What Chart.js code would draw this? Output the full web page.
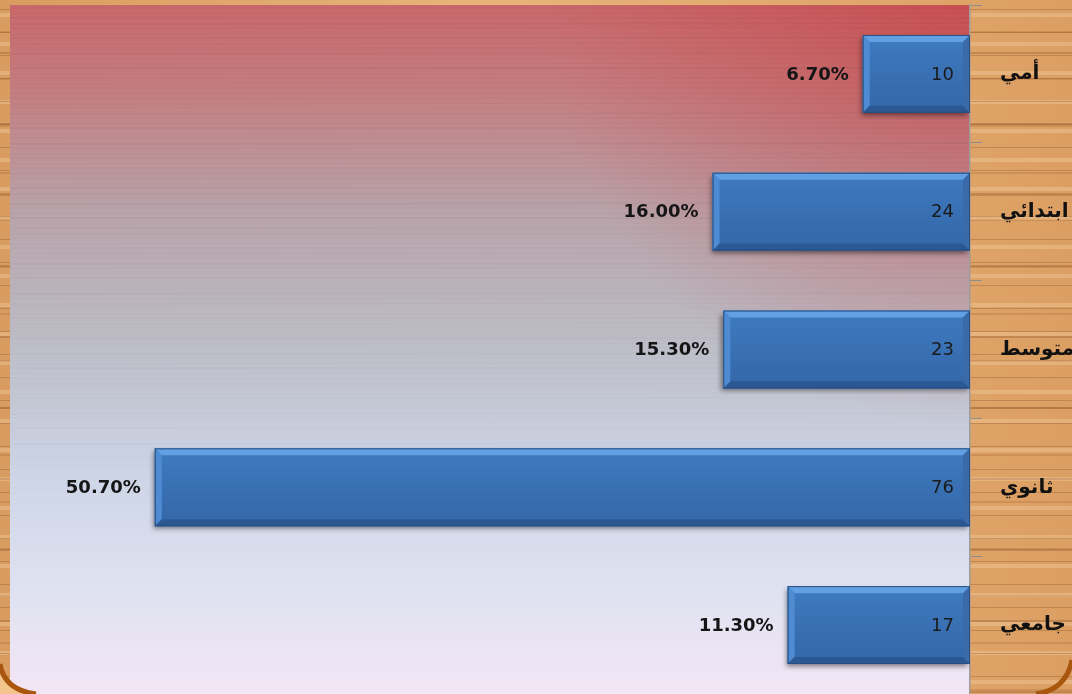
<!DOCTYPE html>
<html>
<head>
<meta charset="utf-8">
<script src="https://cdn.jsdelivr.net/npm/chart.js@4/dist/chart.umd.min.js"></script>
<style>
  html, body { margin: 0; padding: 0; }
  body {
    width: 1072px; height: 694px; overflow: hidden;
    background-color: #dea86c;
    background-image:
      repeating-linear-gradient(180deg, rgba(120,62,22,0) 0 9px, rgba(120,62,22,.28) 9px 10px, rgba(120,62,22,0) 10px 23px),
      repeating-linear-gradient(180deg, rgba(255,232,195,0) 0 13px, rgba(255,232,195,.25) 13px 17px, rgba(255,232,195,0) 17px 29px),
      repeating-linear-gradient(180deg, rgba(140,75,30,0) 0 31px, rgba(140,75,30,.20) 31px 33px, rgba(140,75,30,0) 33px 47px),
      repeating-linear-gradient(180deg, rgba(110,55,20,0) 0 52px, rgba(110,55,20,.25) 52px 54px, rgba(110,55,20,0) 54px 71px),
      linear-gradient(90deg, #d99c60, #e7b47a 45%, #dc9f63);
  }
  #wrap { position: relative; width: 1072px; height: 694px; }
</style>
</head>
<body>
<div id="wrap"><canvas id="chart" width="1072" height="694"></canvas></div>
<script>
// ─── Data ─────────────────────────────────────────────────────────
const CATS   = ['أمي', 'ابتدائي', 'متوسط', 'ثانوي', 'جامعي'];
const COUNTS = [10, 24, 23, 76, 17];
const PCTS   = [6.7, 16.0, 15.3, 50.7, 11.3];
const X_MAX  = 89.5;

// ─── Plot background (gradient + faint grain) + bevelled bars ─────
const bgPlugin = {
  id: 'bg',
  beforeDraw(chart) {
    const { ctx, chartArea: a } = chart;
    ctx.save();
    const g = ctx.createLinearGradient(0, a.top, 0, a.bottom);
    g.addColorStop(0,    '#c9686b');
    g.addColorStop(0.12, '#c57d80');
    g.addColorStop(0.3,  '#b9a3aa');
    g.addColorStop(0.48, '#bcbcc5');
    g.addColorStop(0.68, '#cdd5e6');
    g.addColorStop(0.85, '#dfe2f1');
    g.addColorStop(1,    '#f3e6f5');
    ctx.fillStyle = g;
    ctx.fillRect(a.left, a.top, a.right - a.left, a.bottom - a.top);

    const r = ctx.createRadialGradient(a.right, a.top, 0, a.right, a.top, 420);
    r.addColorStop(0, 'rgba(200,60,62,.55)');
    r.addColorStop(1, 'rgba(200,60,62,0)');
    ctx.fillStyle = r;
    ctx.fillRect(a.left, a.top, a.right - a.left, a.bottom - a.top);

    // grain lines, fading out toward the bottom
    const h = a.bottom - a.top;
    for (let y = a.top + 3, i = 0; y < a.top + h * 0.78; y += 5, i++) {
      const fade = 1 - (y - a.top) / (h * 0.78);
      const alpha = (0.04 + 0.05 * ((i * 7) % 5) / 4) * fade;
      ctx.strokeStyle = `rgba(80,60,75,${alpha.toFixed(3)})`;
      ctx.lineWidth = 1 + (i % 3 === 0 ? 1 : 0);
      ctx.beginPath();
      ctx.moveTo(a.left, y + (i % 2));
      ctx.lineTo(a.right, y);
      ctx.stroke();
    }

    // rounded frame corners at the bottom
    ctx.lineWidth = 5;
    ctx.strokeStyle = '#a9560f';
    ctx.fillStyle = '#f3c58c';
    ctx.beginPath();
    ctx.moveTo(0, 664); ctx.quadraticCurveTo(4, 690, 36, 694); ctx.lineTo(0, 694); ctx.closePath();
    ctx.fill();
    ctx.beginPath();
    ctx.moveTo(0, 664); ctx.quadraticCurveTo(4, 690, 36, 694);
    ctx.stroke();
    ctx.beginPath();
    ctx.moveTo(1036, 694); ctx.quadraticCurveTo(1066, 690, 1072, 660);
    ctx.stroke();
    ctx.restore();
  },
  beforeDatasetsDraw(chart) {
    const ctx = chart.ctx;
    ctx.save();
    ctx.shadowColor = 'rgba(0,0,0,.45)';
    ctx.shadowBlur = 5;
    ctx.shadowOffsetX = -2;
    ctx.shadowOffsetY = 3;
  },
  afterDatasetsDraw(chart) {
    const ctx = chart.ctx;
    ctx.restore();
    const meta = chart.getDatasetMeta(0);
    meta.data.forEach((bar, i) => {
      const p = bar.getProps(['x', 'y', 'base', 'height'], true);
      const L = Math.min(p.x, p.base), R = Math.max(p.x, p.base);
      const T = p.y - p.height / 2, B = p.y + p.height / 2, b = 7;
      ctx.save();
      const face = ctx.createLinearGradient(0, T, 0, B);
      face.addColorStop(0, '#3f7ac0');
      face.addColorStop(1, '#3367a8');
      ctx.fillStyle = face;
      ctx.fillRect(L, T, R - L, B - T);
      const poly = (pts, c) => {
        ctx.fillStyle = c; ctx.beginPath();
        pts.forEach(([x, y], k) => k ? ctx.lineTo(x, y) : ctx.moveTo(x, y));
        ctx.closePath(); ctx.fill();
      };
      poly([[L, T], [R, T], [R - b, T + b], [L + b, T + b]], '#62a0e4');
      poly([[L, T], [L + b, T + b], [L + b, B - b], [L, B]], '#4e8bd2');
      poly([[L, B], [L + b, B - b], [R - b, B - b], [R, B]], '#2b5892');
      poly([[R, T], [R, B], [R - b, B - b], [R - b, T + b]], '#3a6aa8');
      ctx.strokeStyle = '#2a4e7e';
      ctx.lineWidth = 1;
      ctx.strokeRect(L + 0.5, T + 0.5, R - L - 1, B - T - 1);

      ctx.textBaseline = 'middle';
      ctx.fillStyle = '#1a1a1a';
      ctx.font = '18px "DejaVu Sans", Verdana, sans-serif';
      ctx.textAlign = 'right';
      ctx.fillText(String(COUNTS[i]), R - 16, p.y + 1);
      ctx.font = 'bold 18px "DejaVu Sans", Verdana, sans-serif';
      ctx.fillStyle = '#151515';
      ctx.fillText(PCTS[i].toFixed(2) + '%', L - 14, p.y + 1);
      ctx.restore();
    });
  }
};

new Chart(document.getElementById('chart'), {
  type: 'bar',
  data: {
    labels: CATS,
    datasets: [{
      data: COUNTS,
      backgroundColor: '#3a70b5',
      barPercentage: 0.565,
      categoryPercentage: 1,
    }],
  },
  options: {
    indexAxis: 'y',
    responsive: false,
    animation: false,
    layout: { padding: { left: 10, top: 5, right: 0, bottom: 0 } },
    plugins: { legend: { display: false }, tooltip: { enabled: false } },
    scales: {
      x: { display: false, reverse: true, min: 0, max: X_MAX },
      y: {
        position: 'right',
        grid: { drawOnChartArea: false, color: '#8e8e8e', tickLength: 12, offset: true },
        border: { color: '#9c9c9c', width: 1.5 },
        ticks: { color: '#111', padding: 18, font: { family: '"DejaVu Sans", sans-serif', weight: 'bold', size: 20 } },
        afterFit: s => { s.width = 102; s.paddingTop = 0; s.paddingBottom = 0; },
      },
    },
  },
  plugins: [bgPlugin],
});
</script>
</body>
</html>
